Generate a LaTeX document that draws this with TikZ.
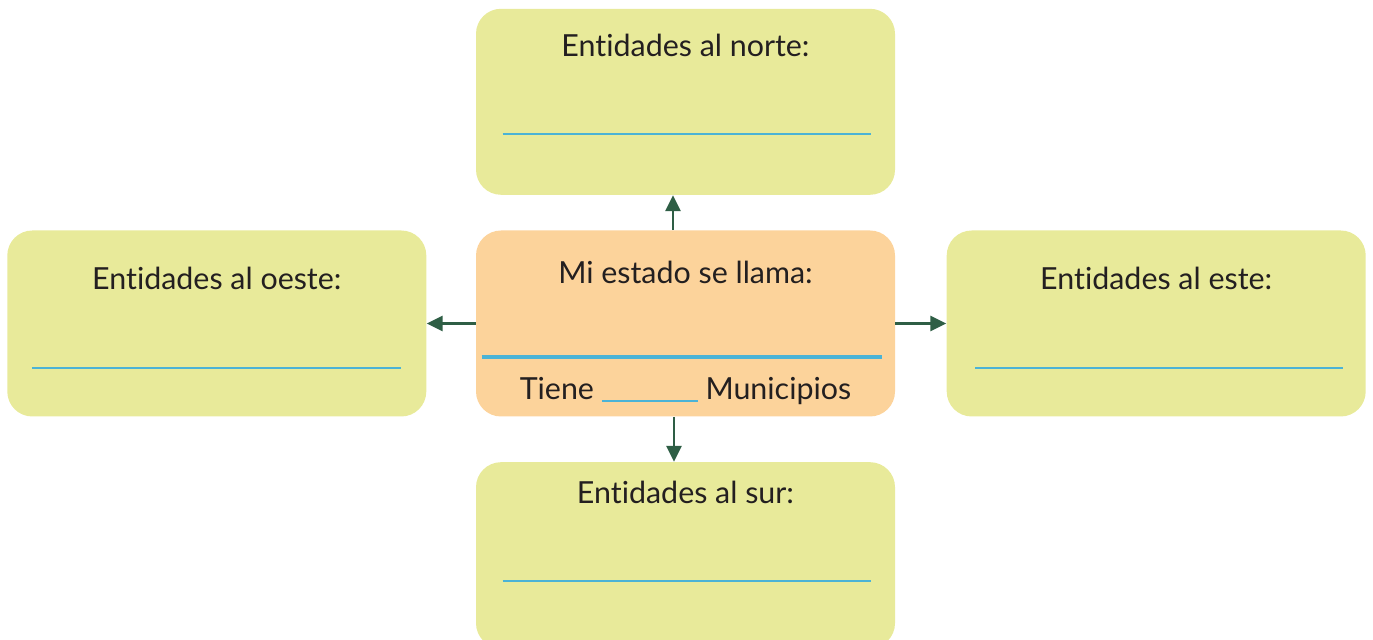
\documentclass[tikz,border=0pt]{standalone}
\usepackage{fontspec}
\setmainfont{Lato}[Ligatures={NoCommon}]
\usepackage{xcolor}
\definecolor{boxgreen}{RGB}{232,234,154}
\definecolor{boxorange}{RGB}{252,211,155}
\definecolor{lineblue}{RGB}{75,179,214}
\definecolor{arrowgreen}{RGB}{46,94,69}
\definecolor{textdark}{RGB}{35,31,32}
\usetikzlibrary{arrows.meta,positioning}

\begin{document}
\begin{tikzpicture}[
  entbox/.style={fill=boxgreen,rounded corners=0.5cm,minimum width=8.38cm,minimum height=3.72cm,inner sep=0pt},
  statebox/.style={entbox,fill=boxorange},
  title/.style={anchor=base,text=textdark,font=\fontsize{17.3}{20}\selectfont,inner sep=0pt},
  blank/.style={lineblue,line width=1.2pt},
  link/.style={arrowgreen,line width=1.6pt,-{Triangle[width=0.3cm,length=0.32cm]}}
]
  \useasboundingbox (0,0) rectangle (27.46,12.8);
  \clip (0,0) rectangle (27.46,12.8);
  \node[statebox] (state) at (13.71,6.33) {};
  \node[entbox,above=0.7cm of state] (north) {};
  \node[entbox,below=0.9cm of state] (south) {};
  \node[entbox,left=0.98cm of state] (west) {};
  \node[entbox,right=1.02cm of state] (east) {};
  % titulos
  \node[title] (tstate) at ([yshift=-1.06cm]state.north) {Mi estado se llama:};
  \node[title] (tnorth) at ([yshift=-0.96cm]north.north) {Entidades al norte:};
  \node[title] (tsouth) at ([yshift=-0.84cm]south.north) {Entidades al sur:};
  \node[title] (twest) at ([yshift=-1.18cm]west.north) {Entidades al oeste:};
  \node[title] (teast) at ([yshift=-1.18cm]east.north) {Entidades al este:};
  \node[title] (tmun) at ([yshift=-3.38cm]state.north) {Tiene \textcolor{lineblue}{\rule[-0.05cm]{1.92cm}{1.2pt}} Municipios};
  % lineas para escribir
  \draw[blank] ([xshift=0.54cm,yshift=-2.52cm]north.north west) -- ([xshift=-0.48cm,yshift=-2.52cm]north.north east);
  \draw[blank] ([xshift=0.54cm,yshift=-2.38cm]south.north west) -- ([xshift=-0.48cm,yshift=-2.38cm]south.north east);
  \draw[blank] ([xshift=0.5cm,yshift=-2.76cm]west.north west) -- ([xshift=-0.52cm,yshift=-2.76cm]west.north east);
  \draw[blank] ([xshift=0.58cm,yshift=-2.76cm]east.north west) -- ([xshift=-0.46cm,yshift=-2.76cm]east.north east);
  \draw[blank,line width=2pt] ([xshift=0.12cm,yshift=-2.54cm]state.north west) -- ([xshift=-0.26cm,yshift=-2.54cm]state.north east);
  % flechas
  \draw[link] ([xshift=-0.25cm]state.north) -- ([xshift=-0.25cm]north.south);
  \draw[link] ([xshift=-0.23cm]state.south) -- ([xshift=-0.23cm]south.north);
  \draw[link] (state.west) -- (west.east);
  \draw[link] (state.east) -- (east.west);
\end{tikzpicture}
\end{document}
